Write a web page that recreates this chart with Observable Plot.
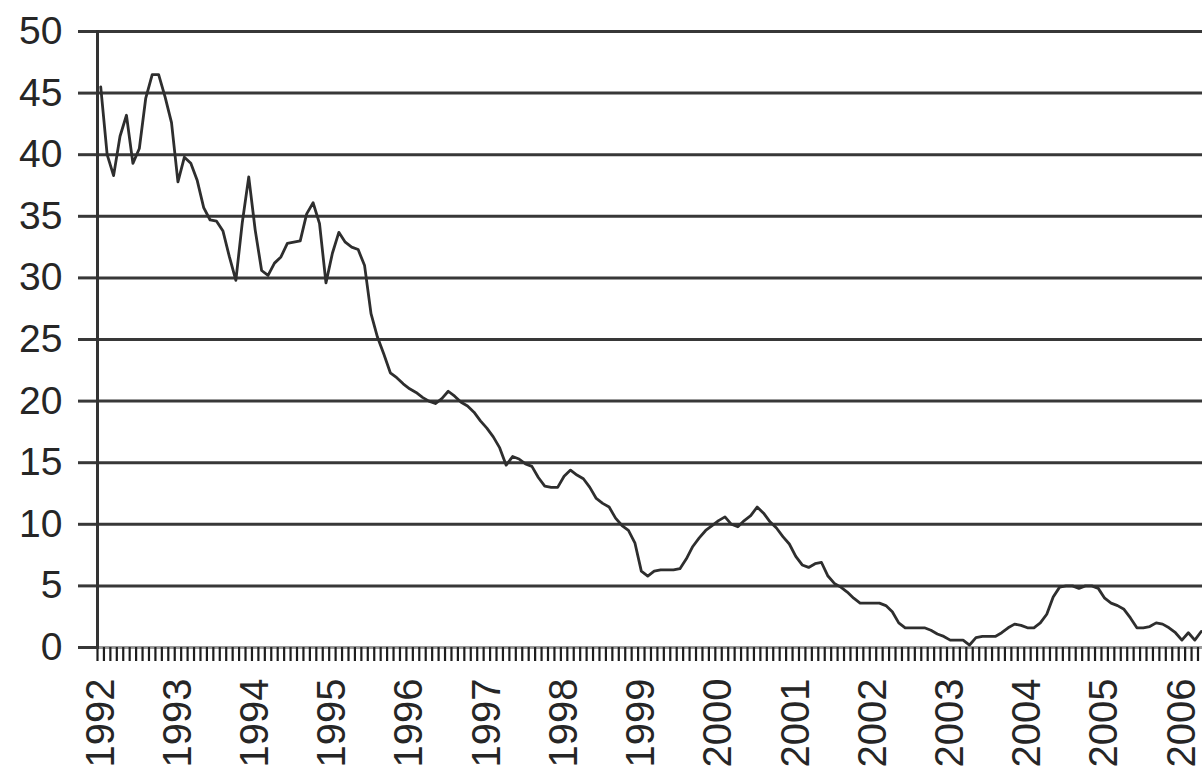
<!DOCTYPE html>
<html>
<head>
<meta charset="utf-8">
<script src="https://cdn.jsdelivr.net/npm/d3@7"></script>
<script src="https://cdn.jsdelivr.net/npm/@observablehq/plot@0.6"></script>
<style>
  html, body { margin: 0; padding: 0; background: #fff; }
  #chart svg { display: block; overflow: visible; }
</style>
</head>
<body>
<div id="chart"></div>
<script>
// Monthly series starting January 1992 (one value per month)
const startYear = 1992;
const values = [
  45.5, 40.0, 38.3, 41.5, 43.2, 39.3, 40.5, 44.6, 46.5, 46.5, 44.7, 42.6,
  37.8, 39.8, 39.3, 37.9, 35.7, 34.7, 34.6, 33.8, 31.7, 29.8, 34.5, 38.2,
  33.9, 30.6, 30.2, 31.2, 31.7, 32.8, 32.9, 33.0, 35.2, 36.1, 34.4, 29.6,
  32.0, 33.7, 32.9, 32.5, 32.3, 31.0, 27.1, 25.2, 23.8, 22.3, 21.9, 21.4,
  21.0, 20.7, 20.3, 20.0, 19.8, 20.2, 20.8, 20.4, 19.9, 19.6, 19.1, 18.4,
  17.8, 17.1, 16.2, 14.8, 15.5, 15.3, 14.9, 14.7, 13.8, 13.1, 13.0, 13.0,
  13.9, 14.4, 14.0, 13.7, 13.0, 12.1, 11.7, 11.4, 10.5, 9.9, 9.5, 8.5,
  6.2, 5.8, 6.2, 6.3, 6.3, 6.3, 6.4, 7.2, 8.2, 8.9, 9.5, 9.9,
  10.3, 10.6, 10.0, 9.8, 10.3, 10.7, 11.4, 10.9, 10.2, 9.7, 9.0, 8.4,
  7.4, 6.7, 6.5, 6.8, 6.9, 5.8, 5.2, 4.9, 4.5, 4.0, 3.6, 3.6,
  3.6, 3.6, 3.4, 2.9, 2.0, 1.6, 1.6, 1.6, 1.6, 1.4, 1.1, 0.9,
  0.6, 0.6, 0.6, 0.2, 0.8, 0.9, 0.9, 0.9, 1.2, 1.6, 1.9, 1.8,
  1.6, 1.6, 2.0, 2.7, 4.1, 4.9, 5.0, 5.0, 4.8, 5.0, 5.0, 4.8,
  4.0, 3.6, 3.4, 3.1, 2.4, 1.6, 1.6, 1.7, 2.0, 1.9, 1.6, 1.2,
  0.6, 1.2, 0.6, 1.3
];
const yearLabels = ["1992","1993","1994","1995","1996","1997","1998","1999",
                    "2000","2001","2002","2003","2004","2005","2006"];
const yTicks = [0, 5, 10, 15, 20, 25, 30, 35, 40, 45, 50];
const yGrid = [5, 10, 15, 20, 25, 30, 35, 40, 45, 50];

const series = values.map((v, i) => ({i, v}));
const yearIdx = yearLabels.map((y, k) => k * 12);          // January of each year
const monthBounds = d3.range(values.length + 1).map(i => i - 0.5); // category boundaries

const font = "'Liberation Sans', Arial, sans-serif";

const chart = Plot.plot({
  width: 1202,
  height: 768,
  marginLeft: 97,
  marginRight: 0,
  marginTop: 31,
  marginBottom: 121,
  style: {fontFamily: font, background: "#fff", color: "#222"},
  x: {domain: [-0.5, 171.2]},
  y: {domain: [0, 50]},
  marks: [
    Plot.gridY(yGrid, {stroke: "#383838", strokeOpacity: 1, strokeWidth: 3}),
    Plot.ruleY([0], {stroke: "#9a9a9a", strokeWidth: 3}),
    Plot.axisY(yTicks, {
      tickSize: 19, tickPadding: 16, fontSize: 39, fill: "#262626",
      stroke: "#383838", strokeWidth: 3, label: null
    }),
    Plot.axisX(monthBounds, {tickSize: 14, stroke: "#1e1e1e", strokeWidth: 2.2, fill: "none", label: null}),
    Plot.frame({anchor: "left", stroke: "#333", strokeWidth: 3}),
    Plot.text(yearIdx, {
      x: d => d,
      text: (d, k) => yearLabels[k],
      frameAnchor: "bottom",
      rotate: -90,
      textAnchor: "end",
      lineAnchor: "middle",
      dy: 31,
      fontSize: 40,
      fill: "#262626"
    }),
    Plot.line(series, {x: "i", y: "v", stroke: "#2e2e2e", strokeWidth: 2.8})
  ]
});
document.getElementById("chart").appendChild(chart);
</script>
</body>
</html>
